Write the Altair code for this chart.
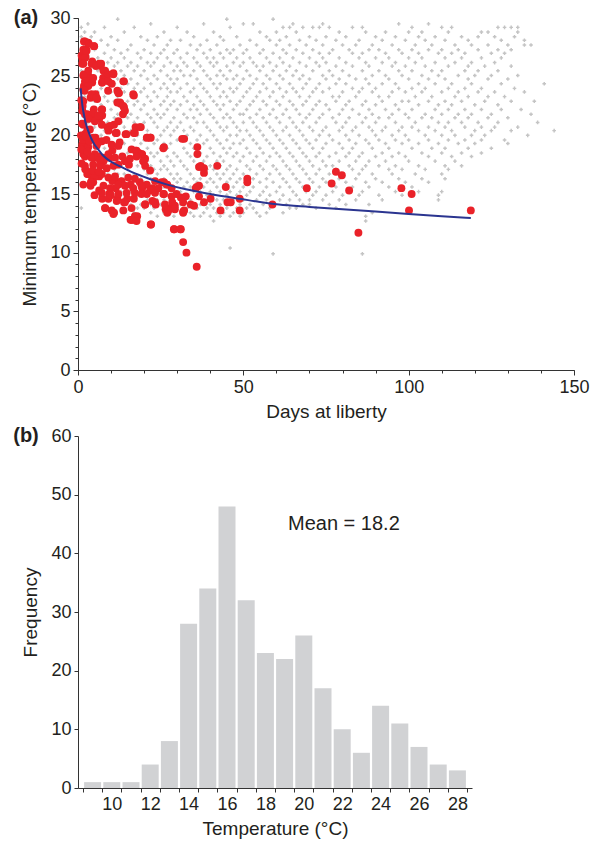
import altair as alt
import pandas as pd

FONT = "Liberation Sans"
TXT = "#231f20"

# ---------------- panel (a) data ----------------
# grey points: rows of (minimum temperature, [days at liberty ...])
gray_rows = [
    (29.9, [12, 45, 59]),
    (29.5, [3, 22, 38, 50, 53, 65, 74, 97, 106]),
    (29.2, [1, 8, 17, 30, 46, 62, 64, 68, 71, 73, 76, 83, 86, 101, 110, 113, 127, 129, 131, 133]),
    (28.8, [2, 5, 14, 26, 33, 41, 55, 60, 66, 79, 87, 93, 100, 104, 112, 122, 124, 133]),
    (28.4, [1, 4, 10, 19, 24, 35, 43, 48, 57, 63, 70, 75, 81, 90, 96, 103, 108, 116, 121, 126, 132]),
    (28.1, [3, 7, 12, 21, 28, 31, 39, 44, 52, 58, 61, 67, 72, 78, 85, 92, 99, 105, 111, 118, 128, 135]),
    (27.7, [2, 9, 16, 23, 27, 34, 37, 42, 49, 54, 60, 64, 69, 74, 80, 84, 89, 95, 102, 107, 114, 119, 124, 130, 135, 137]),
    (27.3, [5, 11, 15, 20, 26, 30, 36, 40, 45, 47, 51, 56, 62, 66, 71, 77, 82, 88, 91, 97, 101, 106, 110, 115, 121, 127, 131]),
    (27.0, [1, 8, 13, 18, 22, 25, 29, 33, 38, 43, 46, 50, 55, 59, 63, 68, 73, 76, 83, 86, 93, 98, 103, 109, 113, 117, 125, 129]),
    (26.6, [3, 6, 10, 14, 19, 24, 27, 31, 35, 39, 41, 44, 48, 52, 57, 61, 65, 70, 74, 79, 85, 90, 94, 100, 104, 111, 116, 122, 128]),
    (26.2, [2, 9, 12, 16, 21, 23, 28, 32, 36, 40, 42, 47, 50, 53, 58, 62, 67, 72, 75, 81, 87, 92, 96, 102, 108, 114, 119, 126]),
    (25.9, [4, 7, 11, 15, 18, 22, 26, 30, 33, 37, 41, 45, 49, 54, 56, 60, 64, 69, 73, 78, 83, 88, 95, 99, 105, 112, 118, 123, 131]),
    (25.5, [1, 6, 13, 17, 20, 25, 29, 31, 35, 38, 43, 46, 51, 55, 59, 63, 66, 71, 76, 80, 86, 91, 97, 101, 107, 110, 117, 121, 127]),
    (25.1, [3, 8, 10, 14, 19, 23, 27, 32, 34, 39, 42, 44, 48, 52, 57, 61, 65, 68, 74, 77, 82, 89, 93, 98, 104, 109, 115, 120, 125, 133]),
    (24.8, [2, 5, 12, 16, 21, 24, 28, 30, 36, 40, 45, 47, 50, 54, 58, 62, 67, 70, 75, 79, 84, 87, 94, 100, 106, 111, 118, 124, 130]),
    (24.4, [4, 9, 11, 15, 18, 22, 26, 29, 33, 37, 41, 43, 49, 53, 56, 60, 64, 69, 73, 78, 81, 88, 92, 96, 103, 108, 113, 119, 128, 141]),
    (24.0, [1, 7, 13, 17, 20, 25, 27, 31, 35, 38, 42, 46, 48, 52, 57, 61, 65, 68, 72, 76, 83, 86, 90, 97, 101, 105, 112, 117, 122, 132]),
    (23.7, [3, 6, 10, 14, 19, 23, 28, 30, 34, 39, 44, 47, 51, 55, 59, 63, 66, 71, 74, 80, 85, 89, 95, 99, 104, 110, 115, 121, 126, 135]),
    (23.3, [2, 8, 12, 16, 21, 24, 27, 32, 36, 40, 43, 45, 50, 54, 58, 62, 67, 70, 77, 79, 84, 91, 94, 102, 107, 114, 118, 124, 129]),
    (22.9, [5, 9, 11, 15, 18, 22, 26, 29, 33, 37, 41, 46, 49, 53, 56, 60, 64, 69, 73, 78, 82, 87, 92, 98, 100, 106, 111, 116, 123, 131, 138]),
    (22.6, [1, 7, 13, 17, 20, 25, 28, 31, 35, 38, 42, 44, 48, 52, 57, 61, 65, 68, 72, 75, 81, 86, 90, 96, 103, 109, 113, 120, 127]),
    (22.2, [4, 10, 14, 19, 23, 27, 30, 34, 36, 39, 43, 47, 51, 55, 59, 63, 66, 71, 76, 80, 83, 88, 93, 97, 101, 108, 112, 117, 122, 128, 134]),
    (21.8, [2, 8, 12, 16, 21, 24, 26, 32, 37, 40, 45, 49, 50, 54, 58, 62, 67, 70, 74, 79, 85, 89, 95, 99, 105, 110, 115, 119, 125, 137]),
    (21.5, [6, 11, 15, 18, 22, 25, 29, 33, 35, 41, 44, 46, 52, 56, 60, 64, 69, 73, 77, 82, 87, 91, 94, 100, 104, 107, 114, 118, 124, 130]),
    (21.1, [3, 9, 13, 17, 20, 23, 28, 31, 36, 38, 42, 47, 50, 53, 57, 61, 65, 68, 72, 78, 81, 86, 90, 96, 102, 109, 112, 116, 121, 127, 139]),
    (20.7, [5, 10, 14, 19, 24, 27, 30, 34, 39, 43, 45, 48, 54, 58, 63, 66, 70, 75, 80, 84, 88, 93, 98, 101, 106, 111, 117, 122, 126, 133]),
    (20.4, [2, 8, 12, 16, 21, 26, 29, 32, 35, 40, 44, 49, 51, 55, 59, 62, 67, 71, 74, 79, 83, 89, 92, 97, 103, 108, 113, 120, 125, 131, 144]),
    (20.0, [7, 11, 15, 18, 22, 25, 28, 33, 37, 41, 46, 48, 52, 56, 60, 64, 68, 73, 76, 81, 85, 90, 95, 99, 105, 110, 114, 119, 123, 136]),
    (19.6, [4, 9, 13, 17, 20, 24, 30, 31, 36, 39, 42, 45, 50, 53, 57, 61, 65, 69, 72, 77, 82, 87, 91, 96, 100, 106, 112, 117, 122, 129]),
    (19.3, [6, 10, 14, 19, 23, 26, 28, 34, 38, 43, 47, 49, 54, 58, 62, 66, 70, 75, 79, 84, 88, 93, 98, 103, 109, 115, 120, 130]),
    (18.9, [3, 8, 12, 16, 21, 25, 27, 32, 35, 40, 44, 46, 51, 55, 59, 63, 67, 71, 74, 80, 83, 89, 94, 101, 107, 111, 118, 125]),
    (18.5, [5, 11, 15, 18, 22, 24, 29, 33, 37, 41, 45, 48, 52, 56, 60, 64, 68, 73, 78, 82, 86, 92, 97, 104, 110, 116, 122]),
    (18.2, [9, 13, 17, 20, 23, 27, 30, 34, 36, 39, 43, 47, 50, 54, 58, 61, 65, 69, 72, 76, 81, 85, 90, 95, 99, 106, 113, 119]),
    (17.8, [7, 12, 14, 19, 21, 25, 28, 31, 35, 38, 42, 44, 49, 53, 57, 62, 66, 70, 74, 79, 84, 88, 93, 100, 108, 114]),
    (17.4, [10, 13, 16, 18, 22, 26, 29, 32, 36, 40, 43, 46, 51, 55, 59, 63, 67, 71, 75, 77, 82, 87, 91, 96, 103, 111, 116]),
    (17.1, [8, 11, 15, 20, 23, 25, 27, 33, 37, 39, 41, 45, 48, 52, 56, 60, 64, 68, 73, 78, 83, 86, 94, 98, 105, 112]),
    (16.7, [9, 12, 14, 17, 21, 24, 28, 30, 34, 38, 42, 44, 47, 50, 54, 58, 61, 65, 69, 72, 76, 80, 85, 89, 95, 102, 110]),
    (16.3, [11, 13, 16, 19, 22, 26, 29, 31, 35, 37, 40, 43, 46, 49, 53, 57, 62, 66, 70, 74, 79, 84, 90, 97, 104, 111]),
    (16.0, [10, 14, 18, 20, 23, 27, 30, 33, 36, 39, 41, 45, 48, 51, 55, 59, 63, 67, 71, 75, 81, 87, 92, 99, 106]),
    (15.6, [12, 15, 17, 21, 24, 26, 28, 32, 34, 38, 42, 44, 47, 50, 53, 57, 61, 64, 68, 73, 78, 83, 88, 94, 101]),
    (15.2, [13, 16, 19, 22, 25, 29, 31, 35, 37, 40, 43, 46, 49, 52, 56, 60, 65, 69, 72, 77, 82, 86, 96, 103, 110]),
    (14.9, [14, 18, 20, 23, 27, 30, 33, 36, 39, 41, 45, 48, 51, 55, 58, 62, 66, 71, 75, 80, 85, 91, 98, 109]),
    (14.5, [15, 17, 21, 24, 26, 28, 32, 34, 38, 42, 44, 47, 50, 54, 57, 61, 64, 67, 70, 74, 79, 84, 92, 109]),
    (14.1, [16, 19, 22, 25, 29, 31, 35, 37, 40, 43, 46, 49, 52, 56, 59, 63, 68, 70, 76, 81, 88]),
    (13.8, [1, 18, 20, 23, 27, 30, 33, 36, 39, 41, 45, 48, 51, 53, 58, 64, 66, 72, 78]),
    (13.4, [17, 22, 26, 28, 32, 34, 38, 42, 44, 47, 50, 54, 57, 62, 89]),
    (13.1, [24, 29, 35, 37, 40, 43, 46, 49, 55, 87]),
    (12.7, [41, 87]),
    (10.4, [46]),
    (9.9, [59, 86]),
]

# red points (days at liberty, minimum temperature)
red_days = [
    1.8, 3.1, 4.8, 2.5, 1.1, 2.3, 4.3, 1.3, 6.4, 6.9, 8.2, 10.7, 1.8, 3.1, 7.6, 13.9, 2.8, 4.3, 7.3, 1.8,
    9.1, 11.9, 12.4, 16.9, 5.3, 3.8, 5.8, 11.9, 12.9, 13.9, 4.8, 7.3, 1.3, 2.8, 13.6, 7.3, 4.1, 6.4, 10.9, 8.9,
    17.4, 19.0, 2.8, 11.4, 14.4, 16.9, 5.3, 21.0, 22.0, 32.1, 2.5, 12.6, 1.3, 26.0, 36.1, 10.4, 17.4, 18.4, 36.1, 4.8,
    9.4, 13.4, 19.4, 7.3, 20.0, 42.1, 15.4, 36.6, 38.1, 38.1, 51.2, 51.2, 2.8, 4.3, 6.4, 10.4, 12.4, 15.9, 19.4, 22.5,
    26.0, 27.0, 36.6, 44.7, 11.4,
    3.8, 6.4, 9.4, 11.9, 7.3, 8.2, 10.9, 13.9, 14.9, 16.9, 16.2, 16.4, 17.9, 15.9, 20.3, 22.0, 22.5, 23.5, 26.0, 26.5,
    27.0, 28.0, 28.5, 31.1, 32.1, 32.6, 34.1, 35.1, 35.6, 36.6, 38.1, 40.1, 29.0, 31.1, 31.8, 32.8, 35.9, 43.1, 45.2, 46.2,
    48.9, 48.9, 58.8,
    69.2, 76.7, 82.0, 84.8, 97.8, 100.9, 100.1, 118.8, 78.0, 79.8,
    37.1, 35.9, 31.8,
    2.1, 3.3, 4.9, 1.6, 2.6, 1.3, 2.1, 1.6, 4.1, 5.4, 7.0, 3.1, 1.6, 2.1, 4.6, 7.7, 9.2, 10.7, 7.3, 9.2,
    10.2, 13.7, 3.1, 1.6, 12.2, 16.7, 4.1, 5.6, 1.6, 12.7, 13.7, 14.2, 7.2, 4.6, 2.1, 3.1, 5.1, 6.1, 1.6, 3.6,
    7.2, 9.7, 12.2, 18.7, 9.2, 11.7, 14.7, 20.8, 21.8, 17.2, 2.1, 4.6, 7.2, 1.6, 3.1, 5.6, 10.2, 12.2, 16.2, 25.8,
    31.5, 17.7, 19.2, 5.1, 2.1, 7.7, 11.2, 20.3,
    1.6, 4.1, 6.1, 7.7, 9.2, 2.1, 4.6, 6.7, 8.7, 10.7, 12.2, 14.2, 15.7, 17.7, 19.7, 20.3, 21.8, 3.1, 5.1, 7.2,
    9.2, 11.2, 13.2, 15.2, 17.2, 18.7, 20.8, 23.3, 25.3, 26.8, 28.3, 1.6, 4.6, 7.7, 9.7, 12.2, 14.2, 16.7, 19.2, 21.8,
    24.3, 7.2, 9.7, 12.2, 14.7, 17.2, 19.2, 20.8, 23.3, 25.8, 28.3, 29.8, 31.8, 9.2, 11.7, 14.2, 20.3, 23.3, 26.3, 29.3,
    8.2, 10.2, 10.7, 13.7, 17.2, 16.2, 17.7, 22.1, 27.3, 29.3, 31.8, 29.1, 30.9,
    1.0, 1.4, 2.0, 1.2, 0.9, 1.5, 2.4, 3.4, 1.0, 2.9, 5.9, 8.6, 1.1, 4.4, 6.6, 3.9, 5.0, 9.9, 2.2, 6.3,
]
red_temps = [
    28.0, 27.9, 27.6, 27.3, 26.8, 26.7, 26.3, 26.1, 26.1, 25.9, 25.5, 25.3, 25.2, 25.1, 24.9, 24.6, 24.6, 24.5, 24.5, 24.2,
    23.8, 23.8, 23.6, 23.4, 23.5, 23.2, 23.1, 22.8, 22.7, 22.4, 22.2, 22.2, 22.1, 21.8, 21.8, 21.7, 21.5, 21.4, 20.9, 20.7,
    20.7, 20.7, 20.4, 20.2, 20.1, 20.2, 19.8, 19.8, 19.8, 19.7, 19.5, 19.4, 19.2, 19.0, 19.0, 18.7, 18.7, 18.5, 18.4, 18.1,
    18.1, 18.2, 18.4, 17.8, 17.9, 17.4, 17.5, 17.3, 17.2, 16.8, 16.3, 16.0, 16.7, 16.3, 16.5, 16.1, 16.0, 15.8, 15.5, 15.5,
    16.0, 15.8, 15.7, 15.6, 15.5,
    15.7, 15.3, 15.0, 14.6, 14.6, 13.8, 13.4, 14.3, 14.6, 14.6, 13.8, 12.8, 13.1, 12.8, 14.1, 12.4, 14.4, 14.1, 15.0, 13.7,
    13.4, 13.8, 14.3, 14.7, 13.6, 14.8, 14.1, 14.0, 15.5, 14.8, 14.3, 14.6, 12.0, 12.0, 10.9, 10.0, 8.8, 13.6, 14.3, 14.3,
    14.6, 13.6, 14.1,
    15.5, 15.9, 15.3, 11.7, 15.5, 15.0, 13.6, 13.6, 16.9, 16.6,
    17.4, 15.6, 13.5,
    28.0, 27.8, 27.6, 27.3, 27.2, 26.6, 26.6, 26.1, 26.1, 25.9, 26.1, 25.5, 25.1, 24.6, 24.9, 25.5, 25.2, 25.2, 24.5, 24.6,
    24.4, 24.6, 24.2, 23.9, 23.6, 23.5, 23.5, 23.2, 22.9, 22.8, 22.5, 22.1, 22.2, 21.9, 21.8, 21.4, 21.2, 21.7, 20.9, 20.5,
    20.9, 20.8, 21.2, 20.7, 20.4, 20.2, 20.1, 19.8, 19.8, 20.2, 20.1, 19.8, 19.5, 19.2, 19.0, 19.1, 19.2, 19.1, 18.8, 18.9,
    19.7, 18.7, 18.4, 18.4, 18.2, 18.1, 18.1, 18.0,
    18.4, 18.1, 18.2, 17.8, 18.4, 17.4, 17.5, 17.4, 17.2, 17.4, 17.5, 17.8, 18.0, 18.2, 17.8, 17.4, 17.0, 16.7, 16.5, 16.7,
    16.4, 16.5, 16.1, 16.4, 16.3, 16.0, 15.8, 16.1, 16.0, 15.8, 15.5, 15.8, 16.0, 15.7, 15.5, 15.8, 15.7, 15.5, 15.7, 15.3,
    15.5, 15.1, 15.0, 15.0, 15.1, 15.1, 15.0, 15.0, 15.1, 15.0, 14.8, 15.0, 14.3, 14.6, 14.4, 14.3, 14.1, 14.3, 14.1, 14.0,
    13.8, 13.6, 13.3, 13.6, 13.1, 12.8, 12.7, 12.4, 13.6, 13.7, 13.4, 12.0, 12.0,
    23.0, 22.5, 23.8, 21.0, 20.0, 19.6, 19.9, 19.5, 18.8, 18.6, 19.3, 19.6, 17.6, 17.0, 17.9, 16.0, 14.9, 14.9, 17.1, 16.9,
]

# fitted curve
curve_days = [0.8, 1.0, 1.3, 1.7, 2.1, 2.7, 3.6, 4.8, 6.1, 7.5, 9.7, 12.4, 16, 21.5, 27, 32.6, 40, 48.7, 60.8, 70, 80, 90, 100, 110, 118.8]
curve_temps = [24.0, 23.4, 22.6, 21.9, 21.3, 20.7, 20.0, 19.3, 18.8, 18.3, 17.8, 17.4, 16.9, 16.3, 15.8, 15.4, 15.0, 14.6, 14.1, 13.9, 13.7, 13.5, 13.3, 13.1, 12.95]

# axis ticks of panel (a)
days_major = [0, 50, 100, 150]
days_minor = list(range(0, 151, 10))
temp_major = [0, 5, 10, 15, 20, 25, 30]
temp_minor = list(range(0, 31))

# ---------------- panel (b) data ----------------
hist_temp = [9, 10, 11, 12, 13, 14, 15, 16, 17, 18, 19, 20, 21, 22, 23, 24, 25, 26, 27, 28]
hist_freq = [1, 1, 1, 4, 8, 28, 34, 48, 32, 23, 22, 26, 17, 10, 6, 14, 11, 7, 4, 3]
hist_edges = [v + 0.5 for v in range(8, 29)]
hist_labels = [10, 12, 14, 16, 18, 20, 22, 24, 26, 28]

# ---------------- build tables ----------------
g_d, g_t = [], []
for t, days in gray_rows:
    for d in days:
        g_d.append(d)
        g_t.append(t)
gray_df = pd.DataFrame({"day": g_d, "temp": g_t})
red_df = pd.DataFrame({"day": red_days, "temp": red_temps})
curve_df = pd.DataFrame({"day": curve_days, "temp": curve_temps})
hist_df = pd.DataFrame({"temp": hist_temp, "freq": hist_freq})

xs_a = alt.Scale(domain=[0, 150], nice=False)
ys_a = alt.Scale(domain=[0, 30], nice=False)

gray = alt.Chart(gray_df).mark_point(shape="cross", filled=True, size=13, color="#c4c4c4", opacity=1).encode(
    x=alt.X("day:Q", scale=xs_a,
            axis=alt.Axis(orient="bottom", title="Days at liberty", values=days_major, tickSize=5,
                          labelOverlap=False, labelFlush=False, labelPadding=3, titlePadding=6)),
    y=alt.Y("temp:Q", scale=ys_a,
            axis=alt.Axis(orient="left", title="Minimum temperature (°C)", values=temp_major, tickSize=5,
                          labelOverlap=False, labelPadding=3, titlePadding=10)))
red = alt.Chart(red_df).mark_circle(size=62, color="#ea2229", opacity=1).encode(
    x=alt.X("day:Q", scale=xs_a, axis=None), y=alt.Y("temp:Q", scale=ys_a, axis=None))
curve = alt.Chart(curve_df).mark_line(color="#2b3590", strokeWidth=2, interpolate="monotone").encode(
    x=alt.X("day:Q", scale=xs_a,
            axis=alt.Axis(orient="bottom", values=days_minor, tickSize=3, labels=False, domain=False, title=None)),
    y=alt.Y("temp:Q", scale=ys_a,
            axis=alt.Axis(orient="left", values=temp_minor, tickSize=3, labels=False, domain=False, title=None)))
lab_a = alt.Chart(pd.DataFrame({"t": ["(a)"]})).mark_text(
    font=FONT, fontSize=20, fontWeight="bold", color=TXT, align="center", baseline="middle"
).encode(x=alt.value(-52), y=alt.value(0), text="t:N")

panel_a = alt.layer(gray, red, curve, lab_a).resolve_axis(x="independent", y="independent").properties(width=496, height=352)

xscale_b = alt.Scale(domain=[8.5, 28.5], nice=False, zero=False)
yb = alt.Y("freq:Q", scale=alt.Scale(domain=[0, 60], nice=False),
           axis=alt.Axis(title="Frequency", values=list(range(0, 61, 10)), tickSize=4,
                         labelOverlap=False, labelPadding=3, titlePadding=10))
bars = alt.Chart(hist_df).mark_bar(size=17, color="#d1d2d4").encode(
    x=alt.X("temp:Q", scale=xscale_b,
            axis=alt.Axis(orient="bottom", values=hist_edges, labels=False, tickSize=4, title=None)),
    y=yb)
# second bottom axis carries the labels centred under the bars
label_layer = alt.Chart(hist_df).mark_bar(size=17, opacity=0).encode(
    x=alt.X("temp:Q", scale=xscale_b,
            axis=alt.Axis(orient="bottom", values=hist_labels, ticks=False, domain=False,
                          labelOverlap=False, labelFlush=False, labelPadding=7,
                          title="Temperature (°C)", titlePadding=6)),
    y=yb)
mean_txt = alt.Chart(pd.DataFrame({"t": ["Mean = 18.2"]})).mark_text(
    font=FONT, fontSize=20, color=TXT, align="left", baseline="middle"
).encode(x=alt.value(210), y=alt.value(88), text="t:N")
lab_b = alt.Chart(pd.DataFrame({"t": ["(b)"]})).mark_text(
    font=FONT, fontSize=20, fontWeight="bold", color=TXT, align="center", baseline="middle"
).encode(x=alt.value(-52), y=alt.value(0), text="t:N")

panel_b = alt.layer(bars, label_layer, mean_txt, lab_b).resolve_axis(x="independent").properties(width=394, height=352)

chart = alt.vconcat(panel_a, panel_b, spacing=5).properties(
    padding={"left": 13, "top": 8, "right": 5, "bottom": 5}
).configure_view(stroke=None).configure_axis(
    labelFont=FONT, titleFont=FONT, labelFontSize=18, titleFontSize=19,
    titleFontWeight="normal", labelColor=TXT, titleColor=TXT,
    domainColor="#333333", tickColor="#333333", grid=False
)

chart.save("out.html", embed_options={"renderer": "svg", "actions": False})
